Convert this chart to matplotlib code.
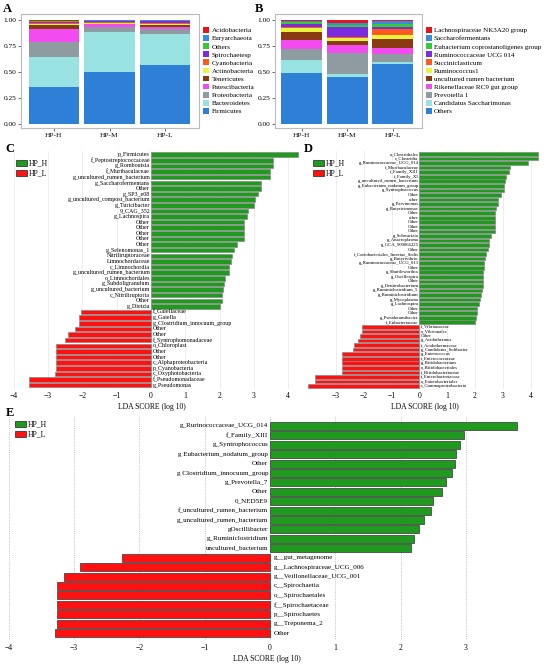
import matplotlib
matplotlib.use('Agg')
import matplotlib.pyplot as plt
from matplotlib.patches import Patch
import numpy as np

plt.rcParams['font.family'] = ['Liberation Serif', 'DejaVu Serif']

W, H = 550, 665

# ---------------- Panel A data (phylum) ----------------
groups = ['HP-H', 'HP-M', 'HP-L']
a_names = ['Firmicutes', 'Bacteroidetes', 'Proteobacteria', 'Patescibacteria', 'Tenericutes',
           'Actinobacteria', 'Cyanobacteria', 'Spirochaetesp', 'Others', 'Euryarchaeota', 'Acidobacteria']
a_firmicutes = [0.355, 0.500, 0.564]
a_bacteroidetes = [0.290, 0.385, 0.301]
a_proteobacteria = [0.140, 0.051, 0.052]
a_patescibacteria = [0.125, 0.022, 0.019]
a_tenericutes = [0.045, 0.008, 0.013]
a_actinobacteria = [0.010, 0.010, 0.013]
a_cyanobacteria = [0.008, 0.005, 0.005]
a_spirochaetesp = [0.007, 0.005, 0.020]
a_others = [0.007, 0.005, 0.005]
a_euryarchaeota = [0.006, 0.005, 0.005]
a_acidobacteria = [0.007, 0.004, 0.003]
a_values = [a_firmicutes, a_bacteroidetes, a_proteobacteria, a_patescibacteria, a_tenericutes,
            a_actinobacteria, a_cyanobacteria, a_spirochaetesp, a_others, a_euryarchaeota, a_acidobacteria]

# ---------------- Panel B data (genus) ----------------
b_names = ['Others', 'Candidatus Saccharimonas', 'Prevotella 1', 'Rikenellaceae RC9 gut group',
           'uncultured rumen bacterium', 'Ruminococcus1', 'Succiniclasticum', 'Ruminococcaceae UCG 014',
           'Eubacterium coprostanoligenes group', 'Saccharofermentans', 'Lachnospiraceae NK3A20 group']
b_others = [0.487, 0.455, 0.577]
b_candidatus = [0.128, 0.026, 0.019]
b_prevotella = [0.109, 0.198, 0.077]
b_rikenellaceae = [0.084, 0.084, 0.058]
b_uncultured = [0.073, 0.038, 0.090]
b_ruminococcus1 = [0.042, 0.026, 0.038]
b_succiniclasticum = [0.013, 0.013, 0.058]
b_rum_ucg014 = [0.026, 0.089, 0.019]
b_eubacterium = [0.019, 0.026, 0.026]
b_saccharofermentans = [0.013, 0.013, 0.032]
b_lachnospiraceae = [0.006, 0.032, 0.006]
b_values = [b_others, b_candidatus, b_prevotella, b_rikenellaceae, b_uncultured, b_ruminococcus1,
            b_succiniclasticum, b_rum_ucg014, b_eubacterium, b_saccharofermentans, b_lachnospiraceae]

stack_colors = ['#2E7FD6', '#98E2E2', '#8E9CA2', '#F24CF0', '#8A3A10', '#E9F53C',
                '#FF5A1E', '#7B2BE0', '#33CC33', '#3A8AE0', '#E8141C']

# ---------------- Panel C data ----------------
c_labels = ['p_Firmicutes', 'f_Peptostreptococcaceae', 'g_Romboutsia', 'f_Muribaculaceae',
            'g_uncultured_rumen_bacterium', 'g_Saccharofermentans', 'Other', 'g_SP3_e08',
            'g_uncultured_compost_bacterium', 'g_Turicibacter', '9_CAG_352', 'g_Lachnospira',
            'Other', 'Other', 'Other', 'Other', 'Other', 'g_Selenomonas_1', 'Nitriliruptoraceae',
            'Limnochordaceae', 'c_Limnochordia', 'g_uncultured_rumen_bacterium', 'o_Limnochordales',
            'g_Subdoligranulum', 'g_uncultured_bacterium', 'c_Nitriliruptoria', 'Other', 'g_Dietzia',
            'f_Gaiellaceae', 'g_Gaiella', 'g_Clostridium_innocuum_group', 'Other', 'Other',
            'f_Syntrophomonadaceae', 'o_Chloroplast', 'Other', 'Other', 'c_Alphaproteobacteria',
            'p_Cyanobacteria', 'c_Oxyphotobacteria', 'f_Pseudomonadaceae', 'g_Pseudomonas']
c_scores = [4.28, 3.55, 3.55, 3.48, 3.46, 3.21, 3.21, 3.11, 3.02, 2.99, 2.83, 2.81,
            2.71, 2.71, 2.71, 2.71, 2.50, 2.41, 2.35, 2.33, 2.27, 2.27, 2.16, 2.12,
            2.09, 2.08, 2.07, 2.02,
            -2.04, -2.11, -2.11, -2.23, -2.43, -2.51, -2.76, -2.76, -2.77, -2.78,
            -2.78, -2.79, -3.55, -3.55]

# ---------------- Panel D data ----------------
d_labels = ['o_Clostridiales', 'c_Clostridia', 'g_Ruminococcaceae_UCG_014', 'f_Muribaculaceae',
            'f_Family_XIII', 'f_Family_XI', 'g_uncultured_rumen_bacterium', 'g_Eubacterium_nodatum_group',
            'g_Syntrophococcus', 'Other', 'other', 'g_Parvimonas', 'g_Butyricimonas', 'Other', 'other',
            'Other', 'Other', 'Other', 'g_Schwartzia', 'g_Anaeroplasma', 'g_GCA_900066225', 'Other',
            'f_Coriobacteriales_Incertae_Sedis', 'g_Butyrivibrio', 'g_Ruminococcaceae_UCG_013', 'Other',
            'g_Shuttleworthia', 'g_Oscillospira', 'Other', 'g_Denitrobacterium', 'g_Ruminiclostridium_5',
            'g_Ruminiclostridium', 'g_Mycoplasma', 'g_Lachnospira', 'Other', 'Other',
            'g_Pseudoramibacter', 'f_Eubacteriaceae',
            'f_Vibrionaceae', 'o_Vibrionales', 'Other', 'g_Acidothermus', 'f_Acidothermaceae',
            'g_Candidatus_Solibacter', 'g_Enterococcus', 'f_Enterococcaceae', 'g_Bifidobacterium',
            'o_Bifidobacteriales', 'f_Bifidobacteriaceae', 'f_Enterobacteriaceae', 'o_Enterobacteriales',
            'c_Gammaproteobacteria']
d_scores = [4.28, 4.28, 3.92, 3.26, 3.23, 3.11, 3.08, 3.06, 3.03, 2.94, 2.84, 2.82, 2.77,
            2.73, 2.71, 2.71, 2.71, 2.71, 2.57, 2.52, 2.51, 2.47, 2.41, 2.35, 2.31, 2.31,
            2.30, 2.30, 2.29, 2.28, 2.25, 2.21, 2.19, 2.15, 2.07, 2.06, 2.04, 2.01,
            -2.05, -2.05, -2.13, -2.19, -2.34, -2.37, -2.77, -2.77, -2.77, -2.77, -2.77,
            -3.75, -3.75, -3.99]

# ---------------- Panel E data ----------------
e_labels = ['g_Rurinococcaceae_UCG_014', 'f_Family_XIII', 'g_Syntrophococcus',
            'g Eubacterium_nodatum_group', 'Other', 'g Clostridium_innocuum_group', 'g_Prevotella_7',
            'Other', '0_NED5E9', 'f_uncultured_rumen_bacterium', 'g_uncultured_rumen_bacterium',
            'gOscillibacter', 'g_Ruminiclostridium', 'uncultured_bacterium',
            'g__gut_metagenome', 'g__Lachnospiraceae_UCG_006', 'g__Veillonellaceae_UCG_001',
            'c__Spirochaetia', 'o__Spirochaetales', 'f__Spirochaetaceae', 'p__Spirochaetes',
            'g__Treponema_2', 'Other']
e_scores = [3.78, 2.97, 2.91, 2.85, 2.83, 2.78, 2.70, 2.63, 2.50, 2.46, 2.36, 2.28, 2.21, 2.16,
            -2.27, -2.91, -3.16, -3.26, -3.26, -3.26, -3.26, -3.26, -3.30]

GREEN = '#1F9A1F'
RED = '#FF1111'

fig = plt.figure(figsize=(5.5, 6.65), dpi=100)


def box(l, t, r, b):
    return [l / W, 1 - b / H, (r - l) / W, (b - t) / H]


def stacked(ax, values, names, xlim, legend_anchor):
    x = np.arange(len(groups))
    bottom = np.zeros(len(groups))
    handles = []
    for vals, name, col in zip(values, names, stack_colors):
        ax.bar(x, vals, bottom=bottom, width=0.9, color=col, edgecolor='none', label=name)
        bottom += np.array(vals)
        handles.append(Patch(facecolor=col, edgecolor='none', label=name))
    ax.set_xlim(*xlim)
    ax.set_ylim(-0.041, 1.058)
    ax.set_yticks([0, 0.25, 0.5, 0.75, 1.0])
    ax.set_yticklabels(['0.00', '0.25', '0.50', '0.75', '1.00'])
    ax.set_xticks(x)
    ax.set_xticklabels(groups)
    ax.tick_params(labelsize=5.3, length=2, width=0.5, pad=1.5, color='#333333')
    for sp in ax.spines.values():
        sp.set_color('#BBBBBB')
        sp.set_linewidth(0.8)
    fig.legend(handles=handles[::-1], loc='upper left', bbox_to_anchor=legend_anchor,
               frameon=False, fontsize=5.1, handlelength=0.85, handleheight=0.85,
               handletextpad=0.35, labelspacing=0.26, borderpad=0, borderaxespad=0)


axA = fig.add_axes(box(21, 14, 199, 128.3))
stacked(axA, a_values, a_names, (-0.59, 2.607), (203 / W, 1 - 27 / H))
axB = fig.add_axes(box(275, 14, 421.7, 128.3))
stacked(axB, b_values, b_names, (-0.58, 2.63), (425.5 / W, 1 - 27 / H))


def lda(ax, labels, scores, fs, xlim, xticks, bar_h, edge, grid_ls, grid_col, tick_fs, xl_fs,
        pad_top, pad_bot, lab_pad):
    y = np.arange(len(labels))
    cols = [GREEN if s > 0 else RED for s in scores]
    ax.barh(y, scores, height=bar_h, color=cols, edgecolor=edge, linewidth=0.5, zorder=2)
    for yi, s, lab in zip(y, scores, labels):
        if s > 0:
            ax.text(-0.03, yi, lab, ha='right', va='center', fontsize=fs, zorder=3)
        else:
            ax.text(0.06, yi, lab, ha='left', va='center', fontsize=fs, zorder=3)
    ax.set_xlim(*xlim)
    ax.set_ylim(len(labels) - 1 + pad_bot, -pad_top)
    ax.set_xticks(xticks)
    ax.set_yticks([])
    ax.grid(axis='x', linestyle=grid_ls, color=grid_col, linewidth=0.5, zorder=0)
    ax.set_axisbelow(True)
    for sp in ax.spines.values():
        sp.set_visible(False)
    ax.tick_params(axis='x', length=0, labelsize=tick_fs, pad=lab_pad)
    ax.set_xlabel('LDA SCORE (log 10)', fontsize=xl_fs, labelpad=2)


def lda_legend(ax, anchor, fs):
    hs = [Patch(facecolor=GREEN, edgecolor='#222222', linewidth=0.5, label='HP_H'),
          Patch(facecolor=RED, edgecolor='#222222', linewidth=0.5, label='HP_L')]
    fig.legend(handles=hs, loc='upper left', bbox_to_anchor=anchor, frameon=False,
               fontsize=fs, handlelength=1.5, handleheight=0.7, handletextpad=0.2,
               labelspacing=0.3, borderpad=0, borderaxespad=0)


axC = fig.add_axes(box(3, 151.3, 300, 388.5))
lda(axC, c_labels, c_scores, 4.3, ((3 - 151) / 34.3, (300 - 151) / 34.3), range(-4, 5), 0.8,
    '#888888', '-', '#E6E6E6', 5.5, 5.5, 0.6, 0.6, 2.5)
lda_legend(axC, (16 / W, 1 - 159.5 / H), 5.5)

axD = fig.add_axes(box(305, 151.3, 545, 388.7))
lda(axD, d_labels, d_scores, 3.4, ((305 - 419.3) / 27.8, (545 - 419.3) / 27.8), range(-3, 5), 0.8,
    '#888888', '-', '#E6E6E6', 5.5, 5.5, 0.6, 0.6, 2.5)
lda_legend(axD, (313 / W, 1 - 159.5 / H), 5.5)

axE = fig.add_axes(box(5, 415.6, 528, 639.6))
lda(axE, e_labels, e_scores, 5.15, ((5 - 270) / 65.3, (528 - 270) / 65.3), range(-4, 4), 0.85,
    '#333333', ':', '#999999', 5.5, 5.5, 1.1, 0.7, 3)
lda_legend(axE, (15 / W, 1 - 420.5 / H), 5.5)

for lab, px, py in [('A', 7, 8.5), ('B', 259, 8.5), ('C', 10, 149), ('D', 308, 148.5), ('E', 10, 413)]:
    fig.text(px / W, 1 - py / H, lab, fontsize=9, fontweight='bold', ha='center', va='center')

fig.savefig('out.png', dpi=100)
